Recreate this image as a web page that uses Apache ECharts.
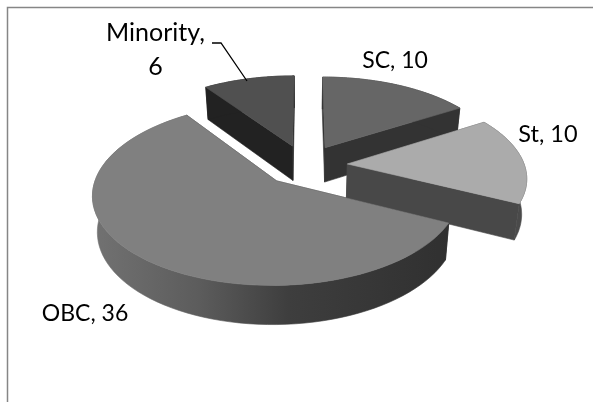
<!DOCTYPE html>
<html>
<head>
<meta charset="utf-8">
<style>html,body{margin:0;padding:0;background:#fff}#c{width:593px;height:402px}</style>
<script src="https://cdn.jsdelivr.net/npm/echarts@6/dist/echarts.min.js"></script>
</head>
<body>
<div id="c"></div>
<script>
var categories = ['SC', 'St', 'OBC', 'Minority'];
var values = [10, 10, 36, 6];

var topColors = ['#666666', '#ababab', '#808080', '#505050'];
var cutColors = ['#333333', '#484848', '#333333', '#222222'];
var wallFills = [
  '#333333',
  '#4a4a4a',
  {type:'linear',x:0,y:0,x2:1,y2:0,colorStops:[
    {offset:0,color:'#727272'},{offset:0.3,color:'#5c5c5c'},{offset:0.55,color:'#3e3e3e'},{offset:1,color:'#303030'}]},
  '#222222'
];
var labelAt = [[395,61],[548,134],[85,314],[155.5,50]];
var labelSize = [23,23.5,23,25];
var labelText = ['SC, 10','St, 10','OBC, 36','Minority,\n6'];

var total = values.reduce(function(a,b){return a+b;},0);
var cx=305, cy=165, R=177, Ry=85, persp=0.14, explode=0.24, depth=35, shrink=0.977;

function proj(X,Y,down){
  var w=1/(1+persp*Y);
  var x=cx+R*X*w, y=cy-Ry*Y*w;
  if(down){
    x=cx+(x-cx)*shrink;
    y=cy+(y-cy)*shrink+depth*w;
  }
  return [x,y];
}

function renderItem(params, api){
  var i=params.dataIndex, before=0;
  for(var k=0;k<i;k++) before+=values[k];
  var a0=before/total*2*Math.PI, a1=(before+api.value(1))/total*2*Math.PI, am=(a0+a1)/2;
  var ex=explode*Math.sin(am), ey=explode*Math.cos(am);
  function pt(th,down){return proj(ex+Math.sin(th),ey+Math.cos(th),down);}
  var apex=proj(ex,ey,false), apexB=proj(ex,ey,true);
  var arcT=[],arcB=[],n=80;
  for(var s=0;s<=n;s++){
    var th=a0+(a1-a0)*s/n;
    arcT.push(pt(th,false)); arcB.push(pt(th,true));
  }
  var children=[];
  function poly(points,fill){
    children.push({type:'polygon',shape:{points:points},style:{fill:fill,stroke:fill,lineWidth:0.6,lineJoin:'round'}});
  }
  poly([apex,arcT[0],arcB[0],apexB],cutColors[i]);
  poly([apex,arcT[n],arcB[n],apexB],cutColors[i]);
  poly(arcT.concat(arcB.slice().reverse()),wallFills[i]);
  poly([apex].concat(arcT),topColors[i]);
  children.push({type:'text',x:labelAt[i][0],y:labelAt[i][1],style:{
    text:labelText[i],fill:'#000',font:labelSize[i]+'px Lato',align:'center',verticalAlign:'middle',lineHeight:34}});
  return {type:'group',children:children};
}

var chart=echarts.init(document.getElementById('c'),null,{renderer:'canvas'});
chart.setOption({
  animation:false,
  backgroundColor:'#ffffff',
  graphic:[
    {type:'polyline',shape:{points:[[7.5,402],[7.5,7.5],[593,7.5]]},style:{stroke:'#868686',lineWidth:1.5,fill:null},z:1},
    {type:'polyline',shape:{points:[[212,43],[221,43],[247,81]]},style:{stroke:'#000',lineWidth:1.3,fill:null},z:10}
  ],
  series:[{
    type:'custom',
    coordinateSystem:'none',
    renderItem:renderItem,
    data:categories.map(function(c,i){return [i,values[i],c];})
  }]
});
</script>
</body>
</html>
